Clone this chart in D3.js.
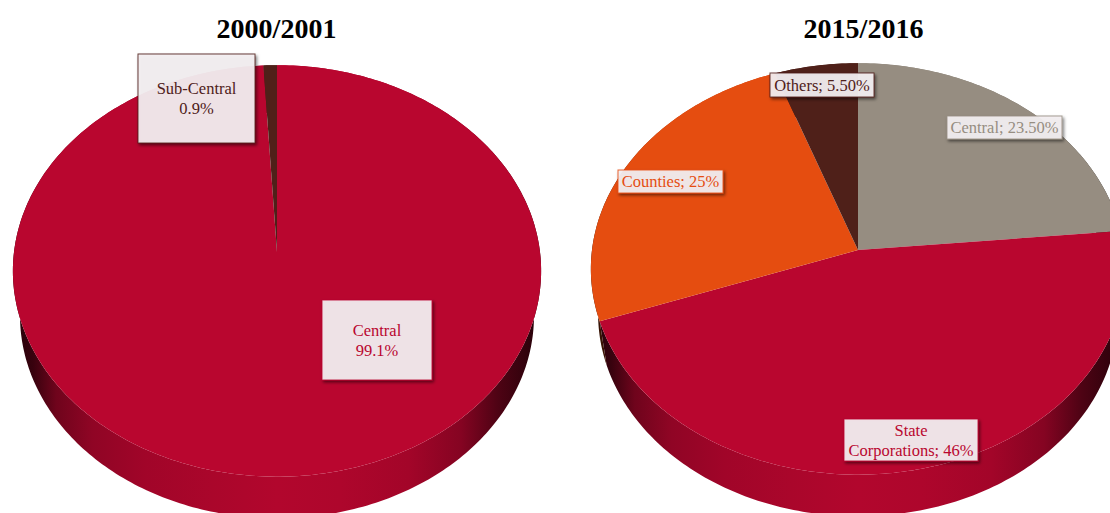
<!DOCTYPE html>
<html>
<head>
<meta charset="utf-8">
<script src="https://d3js.org/d3.v7.min.js"></script>
<style>
  html, body { margin: 0; padding: 0; background: #fff; overflow: hidden; }
  text { font-family: "Liberation Serif", serif; }
</style>
</head>
<body>
<div id="plot"></div>
<script>
// values
const titles2000 = "2000/2001";
const names2000 = ["Central", "Sub-Central"];
const values2000 = [99.1, 0.9];
const labels2000 = [["Central", "99.1%"], ["Sub-Central", "0.9%"]];

const titles2015 = "2015/2016";
const names2015 = ["Central", "State Corporations", "Counties", "Others"];
const values2015 = [23.5, 46, 25, 5.5];
const labels2015 = [["Central; 23.50%"], ["State", "Corporations; 46%"], ["Counties; 25%"], ["Others; 5.50%"]];

const color = d3.scaleOrdinal()
  .domain(["Central2000", "Sub-Central", "Central", "State Corporations", "Counties", "Others"])
  .range(["#b9062f", "#4f2019", "#968d81", "#b9062f", "#e54d10", "#4f2019"]);

// label boxes, x0 y0 x1 y1, placed by hand like the original
const boxes2000 = [[322, 300, 432, 380], [138, 54, 255, 143]];
const boxes2015 = [[947, 116, 1062, 139], [844, 419, 978, 461], [618, 170, 723, 193], [770, 73, 874, 97]];

const width = 1110, height = 513;

const svg = d3.select("#plot").append("svg")
  .attr("width", width)
  .attr("height", height)
  .style("display", "block");

const defs = svg.append("defs");

const shadow = defs.append("filter").attr("id", "shadow")
  .attr("x", "-20%").attr("y", "-20%").attr("width", "150%").attr("height", "160%");
shadow.append("feDropShadow")
  .attr("dx", 1.5).attr("dy", 2).attr("stdDeviation", 1.4)
  .attr("flood-color", "#000").attr("flood-opacity", 0.55);

// tilted circle, S is the vertical radius and k the perspective
const tilt = { S: 204, k: 0.092 };
const depth = { sx: 0.973, sy: 0.985, drop: 45 };

function project(cx, cy, R, a, sx, sy, drop) {
  const u = Math.sin(a), v = Math.cos(a);
  const w = 1 + tilt.k * v;
  return [cx + sx * R * u / w, cy + drop - tilt.S * sy * v / w];
}

function arcPoints(d, cx, cy, R, sx, sy, drop) {
  const n = Math.max(2, Math.ceil((d.endAngle - d.startAngle) * 60));
  return d3.range(n + 1).map(function(i) {
    const a = d.startAngle + (d.endAngle - d.startAngle) * i / n;
    return project(cx, cy, R, a, sx, sy, drop);
  });
}

const line = d3.line();

function sideGradient(id, base, cx, R) {
  const c = d3.rgb(base);
  const g = defs.append("linearGradient").attr("id", id)
    .attr("gradientUnits", "userSpaceOnUse")
    .attr("x1", cx - R).attr("x2", cx + R).attr("y1", 0).attr("y2", 0);
  [[0, 0.2], [0.036, 0.3], [0.08, 0.6], [0.15, 0.78], [0.25, 0.87], [0.375, 0.92], [0.5, 0.96], [0.62, 0.94], [0.75, 0.88], [0.85, 0.72], [0.92, 0.42], [0.97, 0.28], [1, 0.2]]
    .forEach(function(s) {
      g.append("stop").attr("offset", s[0])
        .attr("stop-color", d3.rgb(c.r * s[1], c.g * s[1], c.b * s[1]).formatHex());
    });
}

function drawPie(title, names, values, labels, boxes, cx, cy, R, prefix, titleX) {
  const pie = d3.pie().sort(null).value(function(d) { return d; });
  const slices = pie(values);
  const fill = function(i) {
    return color(prefix === "a" && i === 0 ? "Central2000" : names[i]);
  };

  const g = svg.append("g");

  slices.forEach(function(d, i) { sideGradient(prefix + "side" + i, fill(i), cx, R); });

  // wall first, top face goes over it
  g.selectAll("path.side").data(slices).join("path")
    .attr("class", "side")
    .attr("fill", function(d, i) { return "url(#" + prefix + "side" + i + ")"; })
    .attr("d", function(d) {
      const top = arcPoints(d, cx, cy, R, 1, 1, 0);
      const bottom = arcPoints(d, cx, cy, R, depth.sx, depth.sy, depth.drop).reverse();
      return line(top.concat(bottom)) + "Z";
    });

  g.selectAll("path.face").data(slices).join("path")
    .attr("class", "face")
    .attr("fill", function(d, i) { return fill(i); })
    .attr("d", function(d) {
      return line([[cx, cy]].concat(arcPoints(d, cx, cy, R, 1, 1, 0))) + "Z";
    });

  g.selectAll("rect.box").data(slices).join("rect")
    .attr("class", "box")
    .attr("x", function(d, i) { return boxes[i][0]; })
    .attr("y", function(d, i) { return boxes[i][1]; })
    .attr("width", function(d, i) { return boxes[i][2] - boxes[i][0]; })
    .attr("height", function(d, i) { return boxes[i][3] - boxes[i][1]; })
    .attr("fill", "#f4f0f2")
    .attr("fill-opacity", 0.92)
    .attr("stroke", function(d, i) { return fill(i); })
    .attr("stroke-opacity", 0.85)
    .attr("stroke-width", 1)
    .attr("filter", "url(#shadow)");

  g.selectAll("text.label").data(slices).join("text")
    .attr("class", "label")
    .attr("fill", function(d, i) { return fill(i); })
    .attr("text-anchor", "middle")
    .style("font-size", "16.5px")
    .each(function(d, i) {
      const b = boxes[i];
      const lineHeight = 20;
      const mid = (b[1] + b[3]) / 2;
      const lines = labels[i];
      d3.select(this).selectAll("tspan").data(lines).join("tspan")
        .attr("x", (b[0] + b[2]) / 2)
        .attr("y", function(t, j) { return mid + (j - (lines.length - 1) / 2) * lineHeight + 5.5; })
        .text(function(t) { return t; });
    });

  svg.append("text")
    .attr("x", titleX)
    .attr("y", 38)
    .attr("text-anchor", "middle")
    .style("font-size", "28px")
    .style("font-weight", "bold")
    .attr("fill", "#000")
    .text(title);
}

drawPie(titles2000, names2000, values2000, labels2000, boxes2000, 277, 252, 263, "a", 276.5);
drawPie(titles2015, names2015, values2015, labels2015, boxes2015, 858, 250, 266, "b", 863.5);
</script>
</body>
</html>
